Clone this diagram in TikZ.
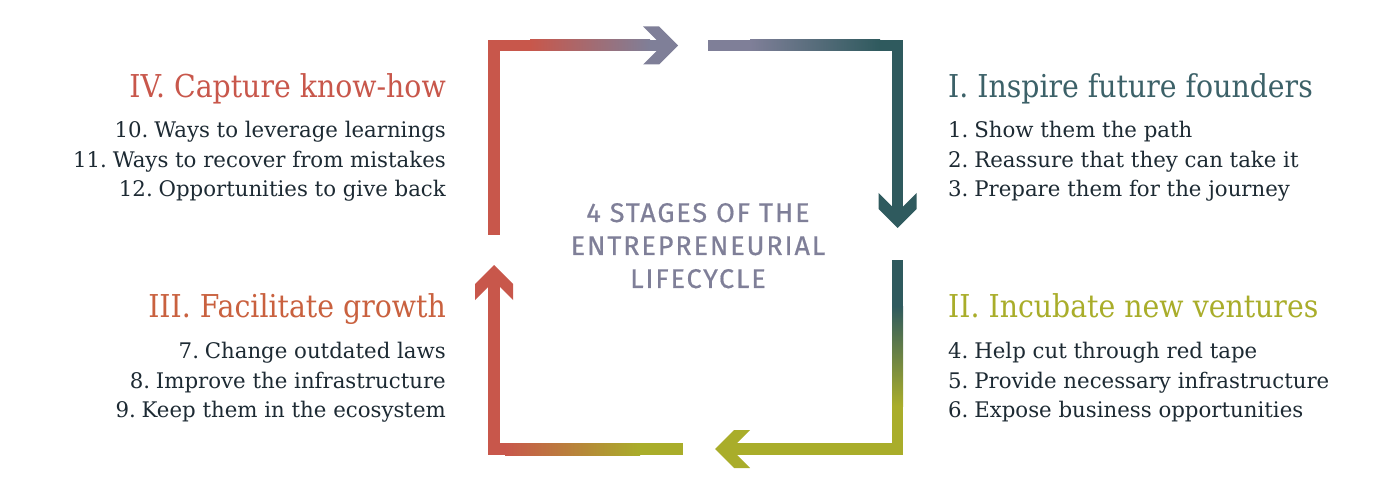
\documentclass[tikz,border=0pt]{standalone}
\usepackage{fontspec}
\setmainfont{DejaVu Serif}
\newfontfamily\headfont{DejaVu Serif}[FakeStretch=0.9]
\newfontfamily\bodyfont{DejaVu Serif}[FakeStretch=0.99]
\newfontfamily\centerfont{Fira Sans}[LetterSpace=7,FakeBold=0.6]
\definecolor{cred}{HTML}{C8574B}
\definecolor{cgray}{HTML}{7F7F98}
\definecolor{cteal}{HTML}{2F5A5E}
\definecolor{colive}{HTML}{A9AD2A}
\definecolor{hteal}{HTML}{3C6168}
\definecolor{horange}{HTML}{C9613F}
\definecolor{txt}{HTML}{1D2A33}
\newcommand\ns{\hspace{0.27em}}
\begin{document}
\begin{tikzpicture}[x=1pt,y=1pt,
  head/.style={font=\headfont\fontsize{31.5}{31.5}\selectfont, inner sep=0pt},
  body/.style={font=\bodyfont\fontsize{21.5}{21.5}\selectfont, text=txt, inner sep=0pt},
  ctr/.style={font=\centerfont\fontsize{27}{27}\selectfont, text=cgray, inner sep=0pt, anchor=base},
  chev/.pic={\fill[#1] (0,0)--(-19,19)--(-35,19)--(-16,0)--(-35,-19)--(-19,-19)--cycle;}]
\useasboundingbox (0,0) rectangle (1400,496);
% corners
\coordinate (TL) at (494,450.5);
\coordinate (TR) at (897.5,450.5);
\coordinate (BR) at (897.5,47);
\coordinate (BL) at (494,47);
% top-left path (red -> gray)
\fill[cred] (488,261) rectangle (500,456);
\fill[cred] (488,445) rectangle (530.5,456);
\shade[left color=cred, right color=cgray] (530,445) rectangle (650,456);
\fill[cgray] (649.5,445) rectangle (664,456);
\pic[rotate=0] at (678,450.5) {chev=cgray};
% top-right path (gray -> teal)
\fill[cgray] (708,445) rectangle (750.5,456);
\shade[left color=cgray, right color=cteal] (750,445) rectangle (880,456);
\fill[cteal] (879.5,445) rectangle (903,456);
\fill[cteal] (892,456) rectangle (903,282);
\pic[rotate=-90] at (897.5,268) {chev=cteal};
% bottom-right path (teal -> olive)
\fill[cteal] (892,236) rectangle (903,189.5);
\shade[top color=cteal, bottom color=colive] (892,190) rectangle (903,90);
\fill[colive] (892,90.5) rectangle (903,41);
\fill[colive] (729,41) rectangle (903,53);
\pic[rotate=180] at (715,47) {chev=colive};
% bottom-left path (olive -> red)
\fill[colive] (639.5,41) rectangle (683,53);
\shade[left color=cred, right color=colive] (505,41) rectangle (640,53);
\fill[cred] (488,41) rectangle (505.5,53);
\fill[cred] (488,41) rectangle (500,217);
\pic[rotate=90] at (494,231) {chev=cred};
% center title
\node[ctr] (c1) at (698,274) {4 STAGES OF THE};
\node[ctr] (c2) at (698,241) {ENTREPRENEURIAL};
\node[ctr] (c3) at (698,208) {LIFECYCLE};
% IV
\node[head, text=cred, anchor=base east] (h4) at (446,398.5) {IV. Capture know-how};
\node[body, anchor=base east] (l10) at (446,358) {10.\ns Ways to leverage learnings};
\node[body, anchor=base east] (l11) at (446,328) {11.\ns Ways to recover from mistakes};
\node[body, anchor=base east] (l12) at (446,299) {12.\ns Opportunities to give back};
% I
\node[head, text=hteal, anchor=base west] (h1) at (948,398.5) {I. Inspire future founders};
\node[body, anchor=base west] (l1) at (948,358) {1.\ns Show them the path};
\node[body, anchor=base west] (l2) at (948,328) {2.\ns Reassure that they can take it};
\node[body, anchor=base west] (l3) at (948,299) {3.\ns Prepare them for the journey};
% III
\node[head, text=horange, anchor=base east] (h3) at (446,179) {III. Facilitate growth};
\node[body, anchor=base east] (l7) at (446,138) {7.\ns Change outdated laws};
\node[body, anchor=base east] (l8) at (446,108) {8.\ns Improve the infrastructure};
\node[body, anchor=base east] (l9) at (446,79) {9.\ns Keep them in the ecosystem};
% II
\node[head, text=colive, anchor=base west] (h2) at (948,179) {II. Incubate new ventures};
\node[body, anchor=base west] (l4) at (948,138) {4.\ns Help cut through red tape};
\node[body, anchor=base west] (l5) at (948,108) {5.\ns Provide necessary infrastructure};
\node[body, anchor=base west] (l6) at (948,79) {6.\ns Expose business opportunities};
\end{tikzpicture}
\end{document}
